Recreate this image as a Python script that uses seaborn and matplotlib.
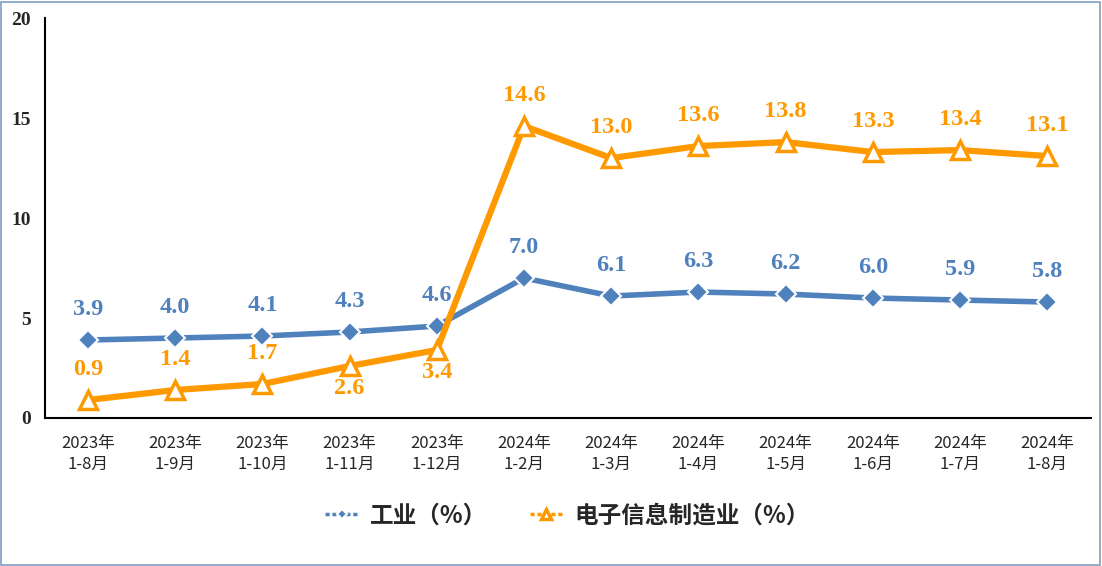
import matplotlib
matplotlib.use("Agg")
import matplotlib.pyplot as plt
import matplotlib.patches as mpatches
import pandas as pd
import seaborn as sns

# ── Data ──────────────────────────────────────────────────────────────────────
periods = ["2023年\n1-8月", "2023年\n1-9月", "2023年\n1-10月", "2023年\n1-11月",
           "2023年\n1-12月", "2024年\n1-2月", "2024年\n1-3月", "2024年\n1-4月",
           "2024年\n1-5月", "2024年\n1-6月", "2024年\n1-7月", "2024年\n1-8月"]
industry = [3.9, 4.0, 4.1, 4.3, 4.6, 7.0, 6.1, 6.3, 6.2, 6.0, 5.9, 5.8]
electronics = [0.9, 1.4, 1.7, 2.6, 3.4, 14.6, 13.0, 13.6, 13.8, 13.3, 13.4, 13.1]
series_names = ["工业（%）", "电子信息制造业（%）"]
# orange labels drawn under the point
below_idx = [3, 4]

BLUE = "#4F81BD"
ORANGE = "#FF9900"
CJK = ["Noto Sans CJK SC", "DejaVu Sans"]
SERIF = "Liberation Serif"

sns.set_style("white")
plt.rcParams["font.family"] = CJK

df = pd.DataFrame({"period": list(range(len(periods))) * 2,
                   "value": industry + electronics,
                   "series": [series_names[0]] * len(periods) + [series_names[1]] * len(periods)})

fig = plt.figure(figsize=(11.02, 5.66), dpi=100)
ax = fig.add_axes([0.0404, 0.2615, 0.9494, 0.7065])

sns.lineplot(data=df[df.series == series_names[0]], x="period", y="value",
             color=BLUE, lw=4, marker="D", markersize=10, markeredgecolor="white",
             markeredgewidth=1.5, ax=ax, label=series_names[0])
sns.lineplot(data=df[df.series == series_names[1]], x="period", y="value",
             color=ORANGE, lw=4.5, marker="^", markersize=13, markerfacecolor="white",
             markeredgecolor=ORANGE, markeredgewidth=2.5, ax=ax, label=series_names[1])

# ── Data labels ───────────────────────────────────────────────────────────────
for i, v in enumerate(industry):
    ax.annotate(f"{v:.1f}", (i, v), xytext=(0, 22), textcoords="offset points",
                ha="center", va="center", color=BLUE, fontsize=17.5,
                fontweight="bold", family=SERIF)
for i, v in enumerate(electronics):
    dy = -16 if i in below_idx else 22
    ax.annotate(f"{v:.1f}", (i, v), xytext=(0, dy), textcoords="offset points",
                ha="center", va="center", color=ORANGE, fontsize=17.5,
                fontweight="bold", family=SERIF)

# ── Axes ──────────────────────────────────────────────────────────────────────
ax.set_xlim(-0.5, len(periods) - 0.5)
ax.set_ylim(0, 20)
ax.set_yticks([0, 5, 10, 15, 20])
ax.set_yticklabels(["0", "5", "10", "15", "20"], family=SERIF, fontweight="bold", fontsize=14)
ax.set_xticks(range(len(periods)))
ax.set_xticklabels(periods, fontsize=12, linespacing=1.35)
ax.set_xlabel("")
ax.set_ylabel("")
ax.tick_params(axis="both", length=0)
ax.tick_params(axis="x", pad=12)
ax.tick_params(axis="y", pad=10)
for side in ["top", "right"]:
    ax.spines[side].set_visible(False)
for side in ["left", "bottom"]:
    ax.spines[side].set_color("black")
    ax.spines[side].set_linewidth(1.5)

leg = ax.legend(loc="upper center", bbox_to_anchor=(0.5, -0.16), ncol=2, frameon=False,
                prop={"family": CJK, "weight": "bold", "size": 17}, handlelength=1.4,
                columnspacing=1.8, handletextpad=0.5, markerscale=0.55)
for h in leg.get_lines():
    h.set_linewidth(2.5)
    h.set_linestyle((0, (1.2, 0.8)))

# outer frame
fig.patches.append(mpatches.Rectangle((0.001, 0.002), 0.997, 0.995, transform=fig.transFigure,
                                      fill=False, edgecolor="#7F9DC0", lw=1.2))

fig.savefig("out.png", dpi=100)
